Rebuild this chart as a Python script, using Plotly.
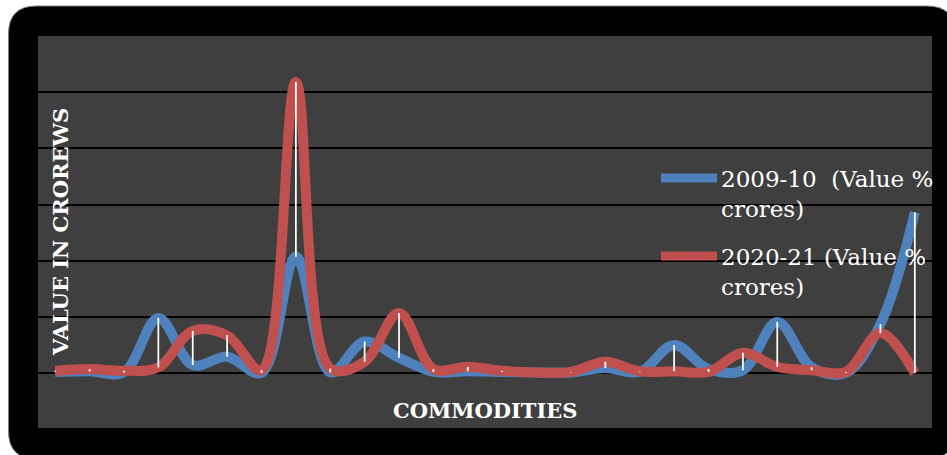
import plotly.graph_objects as go

# ---- data (units = one gridline step) ----
commodities = [f"Commodity {i}" for i in range(1, 27)]
value_2009_10 = [0.02, 0.03, 0.01, 0.98, 0.14, 0.29, 0.00, 2.07, 0.01, 0.56,
                 0.27, 0.02, 0.03, 0.02, 0.01, 0.01, 0.09, 0.02, 0.50, 0.07,
                 0.05, 0.91, 0.10, 0.00, 0.87, 2.86]
value_2020_21 = [0.04, 0.07, 0.04, 0.10, 0.75, 0.67, 0.05, 5.18, 0.08, 0.20,
                 1.07, 0.07, 0.11, 0.04, 0.01, 0.02, 0.20, 0.03, 0.03, 0.02,
                 0.36, 0.11, 0.05, 0.02, 0.71, 0.00]
series_names = ["2009-10  (Value %<br>crores)", "2020-21 (Value %<br>crores)"]

W, H = 947, 455
L, R, T, B = 38, 932, 36, 428   # plot area in pixels


def px(x):
    return (x - L) / (R - L)


def py(y):
    return (B - y) / (B - T)


BLUE = "#4F81BD"
RED = "#C0504D"
SERIF = "DejaVu Serif"

fig = go.Figure()
fig.add_trace(go.Scatter(x=commodities, y=value_2009_10, mode="lines",
                         line=dict(color=BLUE, width=10, shape="spline", smoothing=1),
                         name="2009-10 (Value % crores)", showlegend=False))
fig.add_trace(go.Scatter(x=commodities, y=value_2020_21, mode="lines",
                         line=dict(color=RED, width=10, shape="spline", smoothing=1),
                         name="2020-21 (Value % crores)", showlegend=False))

# high-low lines
hx, hy = [], []
for c, a, b in zip(commodities, value_2009_10, value_2020_21):
    hx += [c, c, None]
    hy += [min(a, b), max(a, b), None]
fig.add_trace(go.Scatter(x=hx, y=hy, mode="lines", line=dict(color="white", width=1.75),
                         showlegend=False, hoverinfo="skip"))


def rounded(x0, y0, x1, y1, r):
    pts = [
        ("M", (x0 + r, y0)), ("L", (x1 - r, y0)), ("Q", (x1, y0), (x1, y0 + r)),
        ("L", (x1, y1 - r)), ("Q", (x1, y1), (x1 - r, y1)),
        ("L", (x0 + r, y1)), ("Q", (x0, y1), (x0, y1 - r)),
        ("L", (x0, y0 + r)), ("Q", (x0, y0), (x0 + r, y0)),
    ]
    s = ""
    for p in pts:
        s += p[0] + " ".join(f"{px(a):.5f},{py(b):.5f}" for a, b in p[1:]) + " "
    return s + "Z"


shapes = [
    dict(type="path", xref="paper", yref="paper", path=rounded(8.5, 6, 955, 459, 28),
         fillcolor="black", line=dict(color="#808080", width=1), layer="below"),
    dict(type="rect", xref="paper", yref="paper", x0=0, x1=1, y0=0, y1=1,
         fillcolor="#3f3f3f", line=dict(width=0), layer="below"),
    # legend samples
    dict(type="line", xref="paper", yref="paper", x0=px(661), x1=px(717),
         y0=py(178), y1=py(178), line=dict(color=BLUE, width=9)),
    dict(type="line", xref="paper", yref="paper", x0=px(661), x1=px(717),
         y0=py(256), y1=py(256), line=dict(color=RED, width=9)),
]

annotations = [
    dict(text="<b>VALUE IN CROREWS</b>", xref="paper", yref="paper", x=px(60), y=py(232),
         textangle=-90, showarrow=False, font=dict(family=SERIF, size=21, color="white"),
         xanchor="center", yanchor="middle"),
    dict(text="<b>COMMODITIES</b>", xref="paper", yref="paper", x=px(485), y=py(410),
         showarrow=False, font=dict(family=SERIF, size=21, color="white"),
         xanchor="center", yanchor="middle"),
    dict(text=series_names[0], xref="paper", yref="paper", x=px(719), y=py(194),
         showarrow=False, align="left", xanchor="left", yanchor="middle",
         font=dict(family=SERIF, size=23, color="white")),
    dict(text=series_names[1], xref="paper", yref="paper", x=px(719), y=py(272),
         showarrow=False, align="left", xanchor="left", yanchor="middle",
         font=dict(family=SERIF, size=23, color="white")),
]

fig.update_layout(
    width=W, height=H,
    margin=dict(l=L, r=W - R, t=T, b=H - B, pad=0),
    paper_bgcolor="white", plot_bgcolor="rgba(0,0,0,0)",
    shapes=shapes, annotations=annotations, showlegend=False,
    xaxis=dict(type="category", range=[-0.5, len(commodities) - 0.5], showgrid=False,
               showticklabels=False, ticks="", zeroline=False, showline=False,
               fixedrange=True),
    yaxis=dict(range=[-(B - 373) / ((373 - T) / 6), 6], dtick=1, tick0=0,
               showgrid=True, gridcolor="black", gridwidth=2, zeroline=False,
               showticklabels=False, ticks="", showline=False, fixedrange=True),
)

fig.write_html("out.html")
